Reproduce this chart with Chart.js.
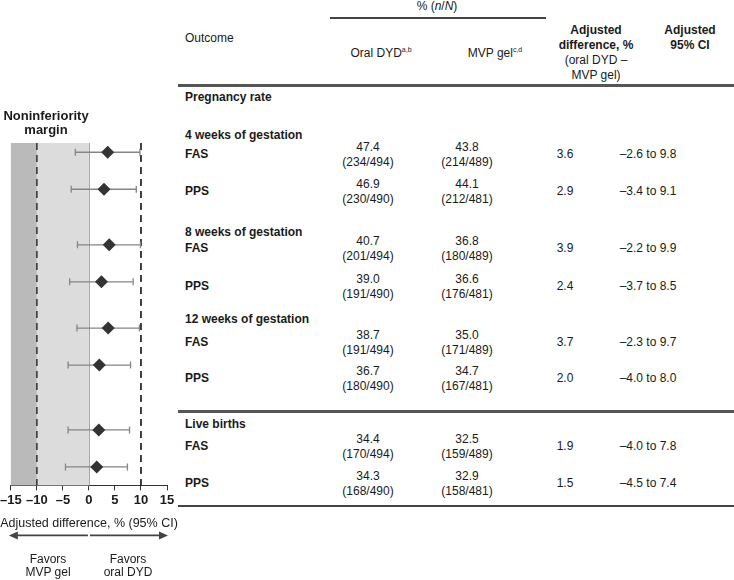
<!DOCTYPE html>
<html>
<head>
<meta charset="utf-8">
<script src="https://cdn.jsdelivr.net/npm/chart.js@4.4.1/dist/chart.umd.min.js"></script>
<style>
body { margin:0; width:734px; height:580px; position:relative; overflow:hidden; background:#fff;
       font-family:'Liberation Sans', Arial, sans-serif; color:#1a1a1a; }
.t { position:absolute; font-size:12px; line-height:14px; white-space:nowrap; }
.c { transform:translateX(-50%); text-align:center; }
.b { font-weight:bold; }
.big { font-size:13px; }
.ax { font-size:12.5px; }
.t sup { font-size:7px; vertical-align:5px; line-height:0; }
.rule { position:absolute; background:#555; }
#plot { position:absolute; left:-2px; top:0; width:182px; height:552px; }
</style>
</head>
<body>
<div id="plot"><canvas id="forest"></canvas></div>
<div id="table"></div>
<script>
// rows of the forest plot / table
const groups = ['4 weeks of gestation', '8 weeks of gestation', '12 weeks of gestation', 'Live births'];
const outcomes = ['FAS', 'PPS', 'FAS', 'PPS', 'FAS', 'PPS', 'FAS', 'PPS'];
const rowKeys = ['4wk FAS', '4wk PPS', '8wk FAS', '8wk PPS', '12wk FAS', '12wk PPS', 'LB FAS', 'LB PPS'];
const oralPct = ['47.4', '46.9', '40.7', '39.0', '38.7', '36.7', '34.4', '34.3'];
const oralN = ['234/494', '230/490', '201/494', '191/490', '191/494', '180/490', '170/494', '168/490'];
const mvpPct = ['43.8', '44.1', '36.8', '36.6', '35.0', '34.7', '32.5', '32.9'];
const mvpN = ['214/489', '212/481', '180/489', '176/481', '171/489', '167/481', '159/489', '158/481'];
const adjDiff = [3.6, 2.9, 3.9, 2.4, 3.7, 2.0, 1.9, 1.5];
const ciLow = [-2.6, -3.4, -2.2, -3.7, -2.3, -4.0, -4.0, -4.5];
const ciHigh = [9.8, 9.1, 9.9, 8.5, 9.7, 8.0, 7.8, 7.4];
const xTicks = [-15, -10, -5, 0, 5, 10, 15];
const nimLow = -10, nimHigh = 10;

// y categories, blanks are spacer slots between table rows
const yLabels = ['', '4wk FAS', '', '', '', '4wk PPS', '', '', '', '', '', '8wk FAS', '', '', '', '8wk PPS',
                 '', '', '', '', '12wk FAS', '', '', '', '12wk PPS', '', '', '', '', '', '', 'LB FAS',
                 '', '', '', 'LB PPS', '', ''];

const dash = s => s.replace('-', '\u2013');

// ---- table (html text) ----
const tbl = document.getElementById('table');
function txt(html, x, yc, cls) {
    let d = document.createElement('div');
    d.className = 't ' + (cls || '');
    d.innerHTML = html;
    d.style.left = x + 'px';
    d.style.top = (yc - 7) + 'px';
    tbl.appendChild(d);
}
function rule(x, y, w, h, col) {
    let d = document.createElement('div');
    d.className = 'rule';
    d.style.cssText = 'left:' + x + 'px;top:' + y + 'px;width:' + w + 'px;height:' + h + 'px;background:' + (col || '#555');
    tbl.appendChild(d);
}

txt('% (<i>n</i>/<i>N</i>)', 437, 6, 'c');
rule(330, 17, 216, 2, '#444');
txt('Outcome', 185, 38);
txt('Oral DYD<sup>a,b</sup>', 381, 53, 'c');
txt('MVP gel<sup>c,d</sup>', 495, 53, 'c');
txt('Adjusted', 596, 30, 'c b');
txt('difference, %', 596, 45, 'c b');
txt('(oral DYD \u2013', 596, 60, 'c');
txt('MVP gel)', 596, 75, 'c');
txt('Adjusted', 690, 30, 'c b');
txt('95% CI', 690, 45, 'c b');
rule(178, 84, 556, 3);

txt('Pregnancy rate', 185, 97, 'b');
const groupY = [135, 232, 319, 424];
groups.forEach((g, i) => txt(g, 185, groupY[i], 'b'));
rule(178, 410, 556, 3);
rule(178, 505, 556, 2, '#444');

const rowY = [154, 191, 248, 286, 342, 378, 446, 483];
for (let i = 0; i < rowKeys.length; ++i) {
    let y = rowY[i];
    txt(outcomes[i], 185, y, 'b');
    txt(oralPct[i], 368, y - 7, 'c');
    txt('(' + oralN[i] + ')', 368, y + 8, 'c');
    txt(mvpPct[i], 467, y - 7, 'c');
    txt('(' + mvpN[i] + ')', 467, y + 8, 'c');
    txt(adjDiff[i].toFixed(1), 565, y, 'c');
    txt(dash(ciLow[i].toFixed(1)) + ' to ' + ciHigh[i].toFixed(1), 648, y, 'c');
}

txt('Noninferiority', 46, 116, 'c b big');
txt('margin', 46, 130, 'c b big');
// axis title as html: chart.js squeezes scale titles to the axis width
txt('Adjusted difference, % (95% CI)', 89, 523, 'c ax');
txt('Favors', 48, 559, 'c');
txt('MVP gel', 48, 572, 'c');
txt('Favors', 128, 559, 'c');
txt('oral DYD', 128, 572, 'c');

// ---- forest plot ----
let datasets = [{
    label: 'Adjusted difference',
    data: rowKeys.map((k, i) => ({ x: adjDiff[i], y: k })),
    pointStyle: 'rectRot',
    pointRadius: 6.5,
    backgroundColor: '#333',
    borderColor: '#333',
    borderWidth: 0
}];
for (let i = 0; i < rowKeys.length; ++i) {
    datasets.push({
        label: 'CI ' + rowKeys[i],
        data: [{ x: ciLow[i], y: rowKeys[i] }, { x: ciHigh[i], y: rowKeys[i] }],
        showLine: true,
        borderColor: '#858585',
        borderWidth: 1.3,
        pointStyle: 'line',
        pointRotation: 90,
        pointRadius: 3.5,
        pointBorderColor: '#858585',
        pointBorderWidth: 1.3
    });
}

const bands = {
    id: 'bands',
    beforeDatasetsDraw(chart) {
        let ctx = chart.ctx, a = chart.chartArea, x = chart.scales.x;
        ctx.save();
        ctx.fillStyle = '#bababa';
        ctx.fillRect(x.getPixelForValue(-15), a.top, x.getPixelForValue(nimLow) - x.getPixelForValue(-15), a.bottom - a.top);
        ctx.fillStyle = '#dcdcdc';
        ctx.fillRect(x.getPixelForValue(nimLow), a.top, x.getPixelForValue(0) - x.getPixelForValue(nimLow), a.bottom - a.top);
        ctx.strokeStyle = '#a6a6a6';
        ctx.lineWidth = 1;
        ctx.beginPath();
        ctx.moveTo(Math.round(x.getPixelForValue(0)) + 0.5, a.top);
        ctx.lineTo(Math.round(x.getPixelForValue(0)) + 0.5, a.bottom);
        ctx.stroke();
        ctx.setLineDash([7, 5]);
        ctx.lineWidth = 1.6;
        [[nimLow, '#3a3a3a'], [nimHigh, '#111']].forEach(([v, c]) => {
            ctx.strokeStyle = c;
            ctx.beginPath();
            ctx.moveTo(x.getPixelForValue(v), a.top);
            ctx.lineTo(x.getPixelForValue(v), a.bottom);
            ctx.stroke();
        });
        ctx.restore();
    },
    afterDraw(chart) {
        // "favors" arrow under the axis
        let ctx = chart.ctx, x = chart.scales.x;
        let y = chart.chartArea.bottom + 50;
        let l = x.getPixelForValue(-15) - 2, r = x.getPixelForValue(15) + 1, m = x.getPixelForValue(0);
        ctx.save();
        ctx.strokeStyle = '#444';
        ctx.fillStyle = '#444';
        ctx.lineWidth = 1.6;
        ctx.beginPath();
        ctx.moveTo(l + 6, y); ctx.lineTo(m - 1, y);
        ctx.moveTo(m + 1, y); ctx.lineTo(r - 6, y);
        ctx.stroke();
        ctx.beginPath();
        ctx.moveTo(l, y); ctx.lineTo(l + 9, y - 4); ctx.lineTo(l + 9, y + 4); ctx.closePath();
        ctx.moveTo(r, y); ctx.lineTo(r - 9, y - 4); ctx.lineTo(r - 9, y + 4); ctx.closePath();
        ctx.fill();
        ctx.restore();
    }
};

new Chart(document.getElementById('forest'), {
    type: 'scatter',
    data: { datasets: datasets },
    options: {
        animation: false,
        responsive: true,
        maintainAspectRatio: false,
        layout: { padding: { top: 143, left: 0, right: 13, bottom: 42 } },
        plugins: { legend: { display: false }, tooltip: { enabled: false } },
        scales: {
            x: {
                type: 'linear',
                min: -15, max: 15,
                afterBuildTicks: axis => { axis.ticks = xTicks.map(v => ({ value: v })); },
                ticks: {
                    callback: v => dash(String(v)),
                    font: { family: 'Liberation Sans', size: 13, weight: 'bold' },
                    color: '#1a1a1a',
                    padding: 2,
                    maxRotation: 0
                },
                grid: { drawOnChartArea: false, drawTicks: true, tickLength: 5, color: '#333' },
                border: { color: '#333', width: 1 },
                title: { display: false }
            },
            y: {
                type: 'category',
                labels: yLabels,
                offset: false,
                display: false
            }
        }
    },
    plugins: [bands]
});
</script>
</body>
</html>
